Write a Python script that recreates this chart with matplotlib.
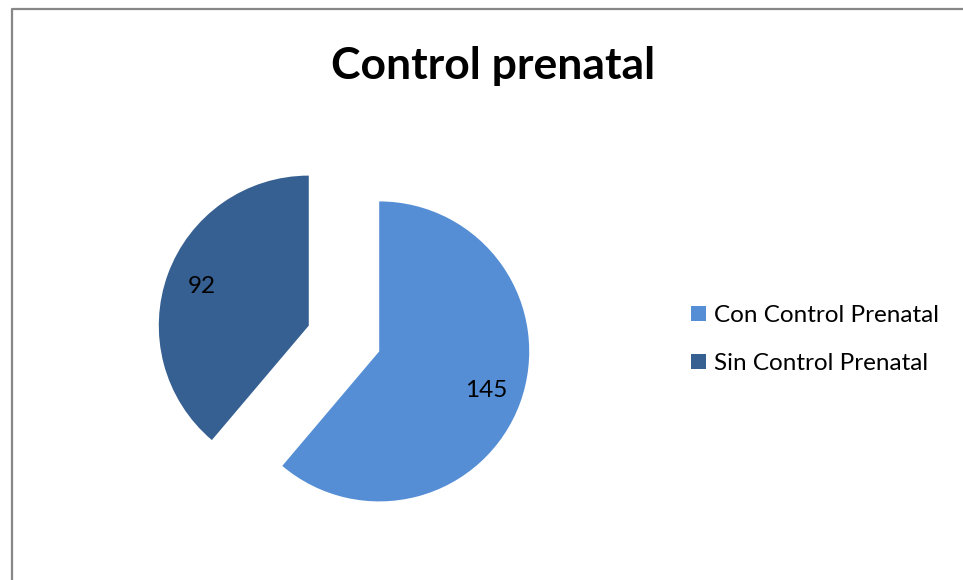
import matplotlib
matplotlib.use('Agg')
import matplotlib.pyplot as plt
from matplotlib.lines import Line2D

categories = ['Con Control Prenatal', 'Sin Control Prenatal']
values = [145, 92]
colors = ['#558ED5', '#376092']
title = 'Control prenatal'

plt.rcParams['font.family'] = ['Lato', 'DejaVu Sans']

fig = plt.figure(figsize=(9.63, 5.8), dpi=100)
ax = fig.add_axes([0, 0, 1, 1])
total = sum(values)
wedges, texts, autotexts = ax.pie(
    values, colors=colors, startangle=90, counterclock=False,
    explode=[0.25, 0.25],
    autopct=lambda p: f'{p * total / 100:.0f}', pctdistance=0.76,
    textprops=dict(fontsize=17.5, color='black'))
ax.set_xlim(-2.2933, 4.1267)
ax.set_ylim(-1.61, 2.2567)
ax.set_aspect('equal')
ax.axis('off')

fig.text(0.512, 1 - 79 / 580, title, ha='center', va='baseline',
         fontsize=32, fontweight='bold')

fig.legend(wedges, categories, loc='center left',
           bbox_to_anchor=(691 / 963, 1 - 339.5 / 580), frameon=False,
           fontsize=17.5, handlelength=0.6, handleheight=0.6,
           handletextpad=0.35, labelspacing=1.1, borderpad=0, borderaxespad=0)

# chart area border (left and top edges visible)
fig.add_artist(Line2D([12 / 963, 12 / 963, 1.0], [0.0, 1 - 8.5 / 580, 1 - 8.5 / 580],
                      transform=fig.transFigure, color='#878787', lw=1.6))

fig.savefig('out.png', dpi=100)
